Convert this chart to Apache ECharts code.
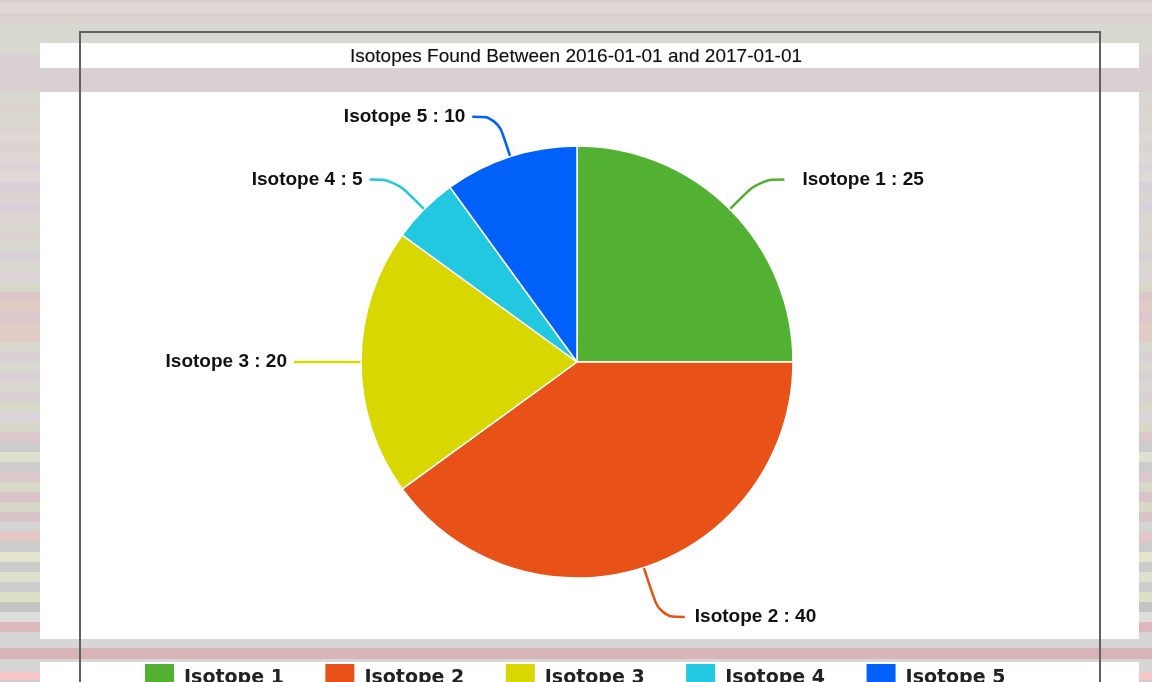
<!DOCTYPE html>
<html>
<head>
<meta charset="utf-8">
<script src="https://cdn.jsdelivr.net/npm/echarts@6/dist/echarts.min.js"></script>
<style>
  html, body { margin: 0; padding: 0; }
  body { width: 1152px; height: 682px; overflow: hidden; position: relative; }
  .panel { position: absolute; left: 40px; width: 1099px; background: #fff; }
  #frame { position: absolute; left: 79px; top: 31px; width: 1018px; height: 700px;
           border: 2px solid #606060; z-index: 5; pointer-events: none; }
  #pieChart { position: absolute; left: 0; top: 0; width: 1152px; height: 682px; z-index: 3; }
</style>
</head>
<body>
<div class="panel" style="top:43px;height:25px"></div>
<div class="panel" style="top:92px;height:547px"></div>
<div class="panel" style="top:662px;height:20px"></div>
<div id="frame"></div>
<div id="pieChart"></div>
<script>
// chart data
var titleText = "Isotopes Found Between 2016-01-01 and 2017-01-01";
var isotopeNames = ["Isotope 1", "Isotope 2", "Isotope 3", "Isotope 4", "Isotope 5"];
var isotopeCounts = [25, 40, 20, 5, 10];
var isotopeColors = ["#52b032", "#e85218", "#d8d800", "#22c8e0", "#0060fa"];
// label line tweaks per slice (gap to text, radial length)
var labelGaps = [18, 10, 7, 7, 7];
var lineLengths = [42, 52, 42, 42, 42];

// page stripes (background only)
var stripes = [
  [3, "#d8d0cc"], [13, "#e0d8d4"], [23, "#dad2ce"], [54, "#d8d8d0"], [92, "#d9d0d3"],
  [102, "#d8d8d0"], [112, "#dcd4d0"], [122, "#d8d8d0"], [132, "#dcd4d0"], [142, "#e0d8d4"],
  [152, "#dcd4d0"], [162, "#e0d8d4"], [172, "#dcd4d8"], [182, "#e0d8d4"], [192, "#d8d0d8"],
  [202, "#dcd4d0"], [212, "#d8d0d8"], [222, "#dcd4d0"], [232, "#d8d8d0"], [242, "#dcd4d0"],
  [252, "#d8d8d0"], [262, "#d8d0d4"], [272, "#d8d8d0"], [282, "#dcd4d8"], [292, "#d8d8c8"],
  [302, "#dcc8c8"], [312, "#e0ccc4"], [322, "#dcc8cc"], [342, "#e0ccc4"], [352, "#d8d8d0"],
  [362, "#d8d0d4"], [372, "#d8d8d0"], [382, "#d8d0d4"], [392, "#d8d8d0"], [402, "#d8d0d4"],
  [412, "#d8d8c8"], [422, "#dcd4d8"], [432, "#d8d8c8"], [442, "#dcc8cc"], [452, "#cccccc"],
  [462, "#e0e0d0"], [472, "#cccccc"], [482, "#dcc8cc"], [492, "#d8d8c8"], [502, "#d8c4c8"],
  [512, "#d8d8c8"], [522, "#d8c4c8"], [532, "#d4d4d4"], [542, "#e4c8c8"], [552, "#cccccc"],
  [562, "#e4e4cc"], [572, "#cccccc"], [582, "#dce0cc"], [592, "#cccccc"], [602, "#dce0c4"],
  [612, "#c4c4c4"], [622, "#dedede"], [632, "#dcb8bc"], [648, "#d6d6d6"], [659, "#d8b4b8"],
  [672, "#d6d6d6"], [680, "#f8c8c8"], [682, "#cccccc"]
];
var stops = [], prev = 0;
for (var s = 0; s < stripes.length; s++) {
  stops.push(stripes[s][1] + " " + prev + "px", stripes[s][1] + " " + stripes[s][0] + "px");
  prev = stripes[s][0];
}
document.body.style.background = "linear-gradient(to bottom, " + stops.join(", ") + ")";

var pieChart = echarts.init(document.getElementById("pieChart"));

var pieData = [];
for (var i = 0; i < isotopeNames.length; i++) {
  pieData.push({
    name: isotopeNames[i],
    value: isotopeCounts[i],
    itemStyle: { color: isotopeColors[i] },
    label: { distanceToLabelLine: labelGaps[i] },
    labelLine: { length: lineLengths[i], lineStyle: { color: isotopeColors[i] } }
  });
}

var pieOption = {
  animation: false,
  title: {
    text: titleText,
    left: "center",
    top: 42,
    textStyle: {
      fontFamily: "Liberation Sans",
      fontSize: 19,
      fontWeight: "normal",
      color: "#111",
      textShadowColor: "rgba(0,0,0,0.35)",
      textShadowBlur: 1
    }
  },
  legend: {
    left: 143,
    top: 662,
    padding: 0,
    itemGap: 39.5,
    itemWidth: 31,
    itemHeight: 30,
    icon: "rect",
    data: isotopeNames,
    textStyle: {
      fontFamily: "DejaVu Sans",
      fontWeight: "bold",
      fontSize: 19,
      color: "#222",
      padding: [0, 0, 0, 4]
    }
  },
  series: [
    {
      type: "pie",
      center: [577, 362],
      radius: 216,
      startAngle: 90,
      clockwise: true,
      data: pieData,
      itemStyle: {
        borderColor: "#fff",
        borderWidth: 1.5
      },
      label: {
        show: true,
        formatter: "{b} : {c}",
        fontFamily: "Liberation Sans",
        fontWeight: "bold",
        fontSize: 19,
        color: "#111"
      },
      labelLine: {
        show: true,
        length: 42,
        length2: 25,
        smooth: 0.4,
        lineStyle: { width: 2.5 }
      }
    }
  ]
};

pieChart.setOption(pieOption);
</script>
</body>
</html>
